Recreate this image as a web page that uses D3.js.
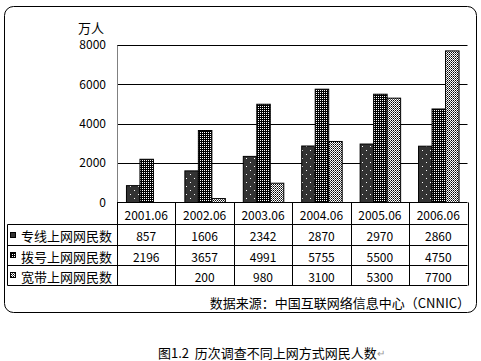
<!DOCTYPE html>
<html><head><meta charset="utf-8">
<script src="https://cdn.jsdelivr.net/npm/d3@7"></script>
<style>
html,body{margin:0;padding:0;background:#fff;}
svg{display:block;}
text{font-family:"Noto Sans CJK SC","Noto Sans",sans-serif;fill:#000;white-space:pre;}
</style></head>
<body>
<svg id="c" width="481" height="361"></svg>
<script>
const categories = ["2001.06","2002.06","2003.06","2004.06","2005.06","2006.06"];
const seriesNames = ["专线上网网民数","拨号上网网民数","宽带上网网民数"];
const dedicated = [857,1606,2342,2870,2970,2860];
const dialup = [2196,3657,4991,5755,5500,4750];
const broadband = [null,200,980,3100,5300,7700];
const yTicks = [0,2000,4000,6000,8000];
const unitLabel = "万人";
const sourceText = "数据来源：中国互联网络信息中心（CNNIC）";
const captionText = "图1.2  历次调查不同上网方式网民人数";

const series = [dedicated, dialup, broadband];
const svg = d3.select("#c");

// patterns
const defs = svg.append("defs");
const p1 = defs.append("pattern").attr("id","pat0").attr("patternUnits","userSpaceOnUse").attr("width",8).attr("height",8);
p1.append("rect").attr("width",8).attr("height",8).attr("fill","#333");
p1.append("rect").attr("x",2).attr("y",2).attr("width",1).attr("height",1).attr("fill","#fff");
p1.append("rect").attr("x",6).attr("y",6).attr("width",1).attr("height",1).attr("fill","#fff");
const p2 = defs.append("pattern").attr("id","pat1").attr("patternUnits","userSpaceOnUse").attr("width",2).attr("height",2);
p2.append("rect").attr("width",2).attr("height",2).attr("fill","#000");
p2.append("rect").attr("x",0).attr("y",0).attr("width",1).attr("height",1).attr("fill","#fff");
const p3 = defs.append("pattern").attr("id","pat2").attr("patternUnits","userSpaceOnUse").attr("width",2).attr("height",2);
p3.append("rect").attr("width",2).attr("height",2).attr("fill","#fff");
p3.append("rect").attr("x",1).attr("y",0).attr("width",1).attr("height",1).attr("fill","#000");
p3.append("rect").attr("x",0).attr("y",1).attr("width",1).attr("height",1).attr("fill","#555");

// outer rounded box
svg.append("rect").attr("x",4.5).attr("y",6.5).attr("width",472).attr("height",306)
  .attr("rx",9).attr("ry",9).attr("fill","none").attr("stroke","#000").attr("stroke-width",1);

const left = 117, right = 467.5;
const y = d3.scaleLinear().domain([0,8000]).range([202.5,45]);
const x = d3.scaleBand().domain(categories).range([left,right]).paddingInner(0).paddingOuter(0);
const groupW = 40.5;
const xs = d3.scaleBand().domain(d3.range(series.length)).range([0,groupW]);

// gridlines
svg.append("g").selectAll("line").data(yTicks.filter(d=>d>0)).join("line")
  .attr("x1",left).attr("x2",right)
  .attr("y1",d=>Math.round(y(d))+0.5).attr("y2",d=>Math.round(y(d))+0.5)
  .attr("stroke","#000");

// y axis
const yAxis = svg.append("g").attr("transform",`translate(${left},0)`)
  .call(d3.axisLeft(y).tickValues(yTicks).tickFormat(d3.format("d")).tickSize(0).tickPadding(11));
yAxis.select(".domain").attr("stroke","#808080");
yAxis.selectAll("text").style("font-size","12px").style("font-family",'"Noto Sans CJK SC",sans-serif').attr("fill","#000");
svg.append("text").attr("x",104).attr("y",27).attr("text-anchor","end").attr("dominant-baseline","central")
  .style("font-size","13px").text(unitLabel);

// bars
series.forEach((vals,si)=>{
  svg.append("g").selectAll("rect").data(vals.map((v,i)=>({v,c:categories[i]})).filter(d=>d.v!=null)).join("rect")
    .attr("x",d=>x(d.c)+(x.bandwidth()-groupW)/2+xs(si)+0.5)
    .attr("width",xs.bandwidth())
    .attr("y",d=>y(d.v))
    .attr("height",d=>y(0)-y(d.v))
    .attr("fill",`url(#pat${si})`).attr("stroke","#000").attr("stroke-width",1);
});

// data table
const rowY = [202.5,224.5,245.5,265.5,285.5];
const tableLeft = 7.5;
const tg = svg.append("g");
tg.append("line").attr("x1",left).attr("x2",right).attr("y1",rowY[0]).attr("y2",rowY[0]).attr("stroke","#000");
for (let r=1;r<rowY.length;r++){
  tg.append("line").attr("x1",tableLeft).attr("x2",right).attr("y1",rowY[r]).attr("y2",rowY[r]).attr("stroke","#000");
}
tg.append("line").attr("x1",tableLeft).attr("x2",tableLeft).attr("y1",rowY[1]).attr("y2",rowY[4]).attr("stroke","#000");
const bounds = categories.map(c=>x(c)).concat([right]);
tg.selectAll("line.v").data(bounds).join("line").attr("class","v")
  .attr("x1",d=>Math.round(d)+0.5).attr("x2",d=>Math.round(d)+0.5)
  .attr("y1",rowY[0]).attr("y2",rowY[4]).attr("stroke","#000");
tg.selectAll("text.h").data(categories).join("text").attr("class","h")
  .attr("x",d=>x(d)+x.bandwidth()/2).attr("y",(rowY[0]+rowY[1])/2+1)
  .attr("text-anchor","middle").attr("dominant-baseline","central")
  .style("font-size","12px").text(d=>d);
series.forEach((vals,si)=>{
  const cy = (rowY[si+1]+rowY[si+2])/2+0.5;
  tg.append("rect").attr("x",10.5).attr("y",Math.round(cy)-3.5).attr("width",5).attr("height",5)
    .attr("fill",`url(#pat${si})`).attr("stroke","#000");
  tg.append("text").attr("x",21).attr("y",cy).attr("dominant-baseline","central")
    .style("font-size","13px").text(seriesNames[si]);
  tg.selectAll(null).data(vals.map((v,i)=>({v,c:categories[i]})).filter(d=>d.v!=null)).join("text")
    .attr("x",d=>x(d.c)+x.bandwidth()/2).attr("y",cy)
    .attr("text-anchor","middle").attr("dominant-baseline","central")
    .style("font-size","12px").text(d=>d.v);
});

// source
svg.append("text").attr("x",470).attr("y",302).attr("text-anchor","end").attr("dominant-baseline","central")
  .style("font-size","13px").text(sourceText);

// caption
const cap = svg.append("text").attr("x",158).attr("y",352).attr("dominant-baseline","central")
  .style("font-size","13px");
cap.append("tspan").text(captionText);
cap.append("tspan").attr("fill","#999").style("font-size","10px").text("↵");
</script>
</body></html>
